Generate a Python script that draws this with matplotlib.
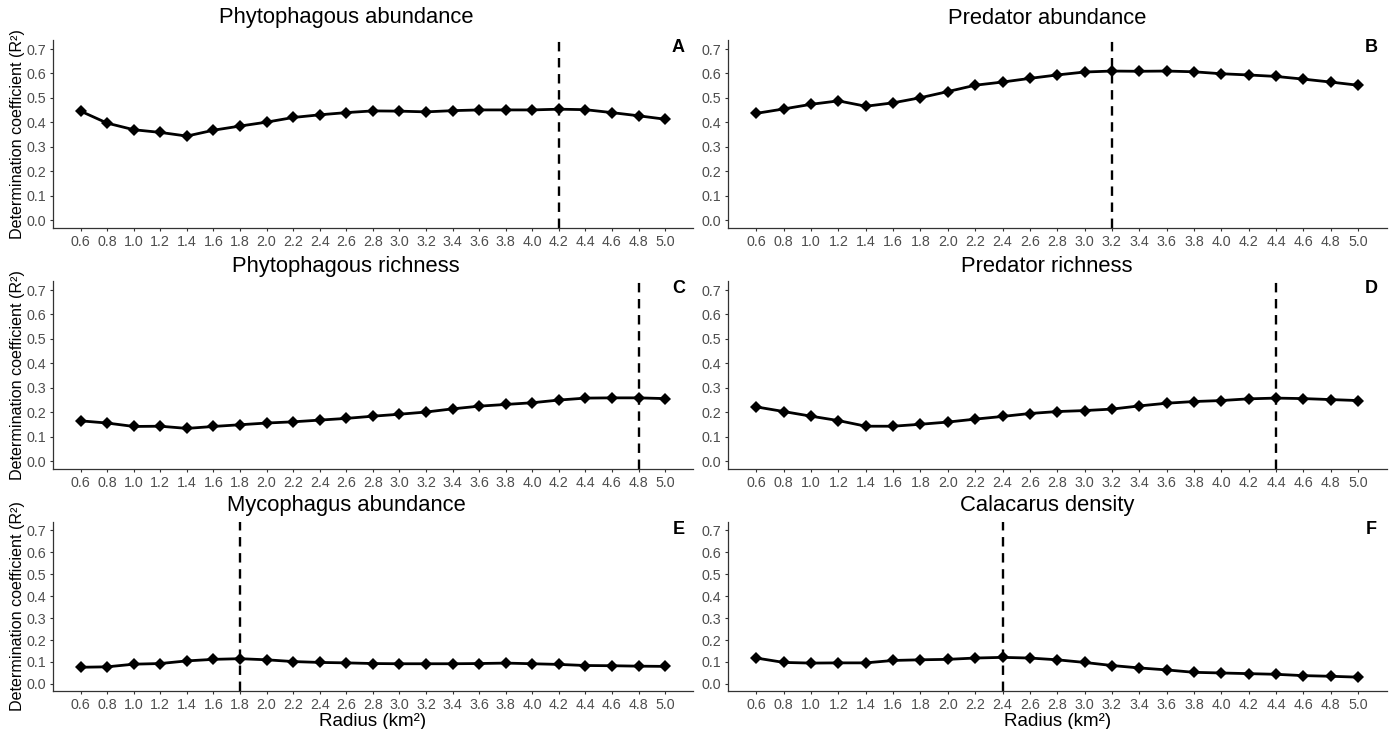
import matplotlib
matplotlib.use("Agg")
import matplotlib.pyplot as plt

plt.rcParams['font.family'] = ['Liberation Sans', 'DejaVu Sans']

radius = [0.6, 0.8, 1.0, 1.2, 1.4, 1.6, 1.8, 2.0, 2.2, 2.4, 2.6, 2.8,
          3.0, 3.2, 3.4, 3.6, 3.8, 4.0, 4.2, 4.4, 4.6, 4.8, 5.0]
radius_labels = [f"{r:.1f}" for r in radius]

phyto_abund = [0.446, 0.397, 0.370, 0.359, 0.344, 0.368, 0.385, 0.401, 0.420, 0.431, 0.440, 0.447,
               0.446, 0.443, 0.448, 0.451, 0.451, 0.451, 0.454, 0.452, 0.440, 0.427, 0.413]
pred_abund = [0.437, 0.455, 0.474, 0.488, 0.466, 0.480, 0.501, 0.526, 0.552, 0.565, 0.580, 0.594,
              0.606, 0.610, 0.609, 0.610, 0.607, 0.599, 0.594, 0.588, 0.577, 0.565, 0.552]
phyto_rich = [0.165, 0.156, 0.142, 0.143, 0.134, 0.142, 0.149, 0.156, 0.161, 0.168, 0.175, 0.184,
              0.192, 0.201, 0.214, 0.225, 0.232, 0.239, 0.250, 0.258, 0.259, 0.259, 0.256]
pred_rich = [0.222, 0.203, 0.184, 0.166, 0.143, 0.143, 0.151, 0.160, 0.172, 0.183, 0.195, 0.203,
             0.207, 0.213, 0.226, 0.237, 0.244, 0.248, 0.255, 0.258, 0.256, 0.252, 0.248]
myco_abund = [0.076, 0.078, 0.090, 0.093, 0.105, 0.112, 0.115, 0.110, 0.102, 0.098, 0.096, 0.093,
              0.092, 0.092, 0.092, 0.093, 0.095, 0.092, 0.089, 0.084, 0.083, 0.081, 0.080]
calac_dens = [0.118, 0.098, 0.095, 0.096, 0.096, 0.107, 0.110, 0.112, 0.118, 0.121, 0.118, 0.110,
              0.098, 0.084, 0.073, 0.064, 0.053, 0.050, 0.047, 0.044, 0.038, 0.035, 0.031]

titles = ["Phytophagous abundance", "Predator abundance", "Phytophagous richness",
          "Predator richness", "Mycophagus abundance", "Calacarus density"]
letters = ["A", "B", "C", "D", "E", "F"]
best_radius = [4.2, 3.2, 4.8, 4.4, 1.8, 2.4]
series = [phyto_abund, pred_abund, phyto_rich, pred_rich, myco_abund, calac_dens]
yticks = [0.0, 0.1, 0.2, 0.3, 0.4, 0.5, 0.6, 0.7]

W, H = 1394, 729
fig = plt.figure(figsize=(W / 100, H / 100), dpi=100)
fig.patch.set_facecolor("white")


def rect(l, r, t, b):
    return [l / W, 1 - b / H, (r - l) / W, (b - t) / H]


cols = [(52.7, 693.0), (727.7, 1386.7)]
rows = [(40, 228), (281, 469), (522, 691)]
title_y = [18, 266, 505]
col_centers = [346, 1047]

axis_col = "#333333"
tick_col = "#4D4D4D"

for i in range(6):
    r, c = divmod(i, 2)
    l, rr = cols[c]
    t, b = rows[r]
    ax = fig.add_axes(rect(l, rr, t, b))
    ax.plot(radius, series[i], color="black", lw=2.0, marker="D", markersize=6,
            markeredgewidth=0, zorder=3)
    ax.axvline(best_radius[i], color="black", lw=1.7, dashes=(4.0, 2.8), zorder=2)
    ax.set_xlim(0.39, 5.21)
    ax.set_ylim(-0.032, 0.737)
    ax.set_xticks(radius)
    ax.set_xticklabels(radius_labels)
    ax.set_yticks(yticks)
    ax.set_yticklabels([f"{v:.1f}" for v in yticks])
    for s in ["top", "right"]:
        ax.spines[s].set_visible(False)
    for s in ["left", "bottom"]:
        ax.spines[s].set_color(axis_col)
        ax.spines[s].set_linewidth(0.9)
    ax.tick_params(axis="both", colors=axis_col, labelcolor=tick_col, labelsize=10.3,
                   length=2.5, width=0.8, pad=2.5)
    ax.text(5.1, 0.705, letters[i], ha="center", va="center", fontsize=13,
            fontweight="bold", color="black")
    fig.text(col_centers[c] / W, 1 - title_y[r] / H, titles[i], ha="center", va="center",
             fontsize=15.8, color="black")
    if c == 0:
        ax.set_ylabel("Determination coefficient (R²)", fontsize=11.6, color="black",
                      labelpad=0.5)
    if r == 2:
        ax.set_xlabel("Radius (km²)", fontsize=13.5, color="black", labelpad=1)

fig.savefig("out.png", dpi=100, facecolor="white")
